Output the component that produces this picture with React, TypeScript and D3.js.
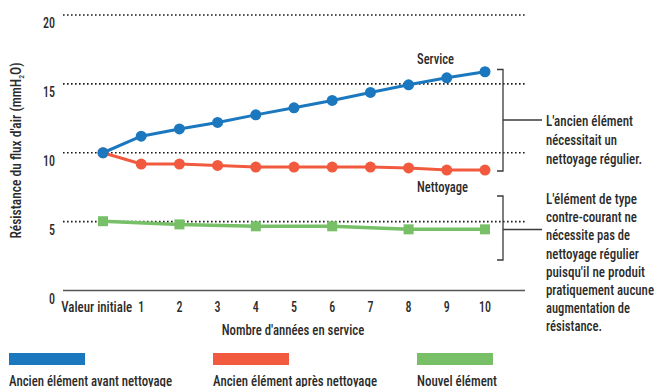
import React from "react";
import * as d3 from "d3";

// ---- data ----
const xLabels = ["Valeur initiale", "1", "2", "3", "4", "5", "6", "7", "8", "9", "10"];
const beforeCleaning = [10.0, 11.2, 11.73, 12.2, 12.75, 13.26, 13.8, 14.38, 14.93, 15.44, 15.88];
const afterCleaning = [10.0, 9.18, 9.18, 9.08, 8.96, 8.96, 8.96, 8.96, 8.9, 8.74, 8.74];
const newIndex = [0, 2, 4, 6, 8, 10];
const newElement = [5.03, 4.8, 4.66, 4.66, 4.44, 4.44];
const yTicks = [0, 5, 10, 15, 20];
const legendLabels = ["Ancien élément avant nettoyage", "Ancien élément après nettoyage", "Nouvel élément"];
const note1 = ["L'ancien élément", "nécessitait un", "nettoyage régulier."];
const note2 = [
  "L'élément de type",
  "contre-courant ne",
  "nécessite pas de",
  "nettoyage régulier",
  "puisqu'il ne produit",
  "pratiquement aucune",
  "augmentation de",
  "résistance.",
];

// ---- style ----
const W = 655;
const H = 387;
const BLUE = "#1b78bf";
const RED = "#f15a3f";
const GREEN = "#77c068";
const TXT = "#2b2b2b";
const FONT = "'Roboto Condensed','Liberation Sans Narrow','DejaVu Sans Condensed','Roboto',sans-serif";

// measured widths of texts in the reference (px)
const widthOf: Record<string, number> = {
  "Valeur initiale": 71,
  "Nombre d'années en service": 142.5,
  Service: 37,
  Nettoyage: 51,
  "L'ancien élément": 87,
  "nécessitait un": 71,
  "nettoyage régulier.": 96,
  "L'élément de type": 91,
  "contre-courant ne": 91,
  "nécessite pas de": 84,
  "nettoyage régulier": 93,
  "puisqu'il ne produit": 99,
  "pratiquement aucune": 108,
  "augmentation de": 84,
  "résistance.": 56,
  "Ancien élément avant nettoyage": 163,
  "Ancien élément après nettoyage": 164,
  "Nouvel élément": 80,
};
const wOf = (s: string) => widthOf[s] ?? s.length * 6;

function T(props: {
  x: number;
  y: number;
  text: string;
  anchor?: "start" | "middle" | "end";
  size?: number;
}) {
  const { x, y, text, anchor = "start", size = 15 } = props;
  return (
    <text
      x={x}
      y={y}
      textAnchor={anchor}
      fontSize={size}
      fill={TXT}
      fontFamily={FONT}
      fontWeight={500}
      textLength={wOf(text)}
      lengthAdjust="spacingAndGlyphs"
    >
      {text}
    </text>
  );
}

export default function App() {
  const x = d3.scaleLinear().domain([0, 10]).range([103, 485]);
  const y = d3.scaleLinear().domain([0, 20]).range([290.5, 15]);
  const gx0 = 63;
  const gx1 = 525;

  const line = d3
    .line<number>()
    .x((_, i) => x(i))
    .y((d) => y(d));
  const greenLine = d3
    .line<number>()
    .x((_, i) => x(newIndex[i]))
    .y((d) => y(d));

  const legendX = [9, 213, 417];
  const legendColors = [BLUE, RED, GREEN];

  return (
    <svg
      width={W}
      height={H}
      style={{ position: "absolute", left: 0, top: 0, background: "#fff" }}
    >
      {/* grid */}
      {yTicks.map((t) =>
        t === 0 ? (
          <line key={t} x1={gx0} x2={gx1} y1={y(t)} y2={y(t)} stroke="#555" strokeWidth={1.5} />
        ) : (
          <line
            key={t}
            x1={gx0}
            x2={gx1}
            y1={y(t)}
            y2={y(t)}
            stroke="#1a1a1a"
            strokeWidth={1.6}
            strokeDasharray="1.6 2.4"
          />
        )
      )}
      {yTicks.map((t) => (
        <T key={"yl" + t} x={55} y={y(t) + 13} text={String(t)} anchor="end" />
      ))}

      {/* x tick labels */}
      {xLabels.map((s, i) =>
        i === 0 ? (
          <T key={s} x={x(1) - 9} y={312} text={s} anchor="end" />
        ) : (
          <T key={s} x={x(i)} y={312} text={s} anchor="middle" />
        )
      )}
      <T x={293} y={335} text="Nombre d'années en service" anchor="middle" size={14} />

      {/* y title */}
      <text
        transform="translate(21,150.5) rotate(-90)"
        textAnchor="middle"
        fontSize={14}
        fill={TXT}
        fontFamily={FONT}
        fontWeight={500}
        textLength={176}
        lengthAdjust="spacingAndGlyphs"
      >
        Résistance du flux d'air (mmH<tspan dy={3} fontSize={8}>2</tspan>
        <tspan dy={-3}>O)</tspan>
      </text>

      {/* series */}
      <path d={greenLine(newElement) ?? ""} fill="none" stroke={GREEN} strokeWidth={3.5} />
      {newElement.map((v, i) => (
        <rect key={"g" + i} x={x(newIndex[i]) - 5} y={y(v) - 5} width={10} height={10} fill={GREEN} />
      ))}
      <path d={line(afterCleaning) ?? ""} fill="none" stroke={RED} strokeWidth={3} />
      {afterCleaning.map((v, i) => (
        <circle key={"r" + i} cx={x(i)} cy={y(v)} r={5.5} fill={RED} />
      ))}
      <path d={line(beforeCleaning) ?? ""} fill="none" stroke={BLUE} strokeWidth={3} />
      {beforeCleaning.map((v, i) => (
        <circle key={"b" + i} cx={x(i)} cy={y(v)} r={5.5} fill={BLUE} />
      ))}

      <T x={417} y={64} text="Service" />
      <T x={417} y={192} text="Nettoyage" />

      {/* brackets */}
      <g stroke="#3a3a3a" strokeWidth={1.3} fill="none">
        <path d="M497,69.5 H503 V171 H497" />
        <path d="M503,120 H542" />
        <path d="M497,196 H503 V260 H497" />
        <path d="M503,229.5 H542" />
      </g>
      {note1.map((s, i) => (
        <T key={s} x={546} y={126 + i * 19} text={s} />
      ))}
      {note2.map((s, i) => (
        <T key={s} x={546} y={204 + i * 18.2} text={s} />
      ))}

      {/* legend */}
      {legendLabels.map((s, i) => (
        <g key={s}>
          <rect x={legendX[i]} y={353} width={76} height={12} fill={legendColors[i]} />
          <T x={legendX[i]} y={386} text={s} />
        </g>
      ))}
    </svg>
  );
}
